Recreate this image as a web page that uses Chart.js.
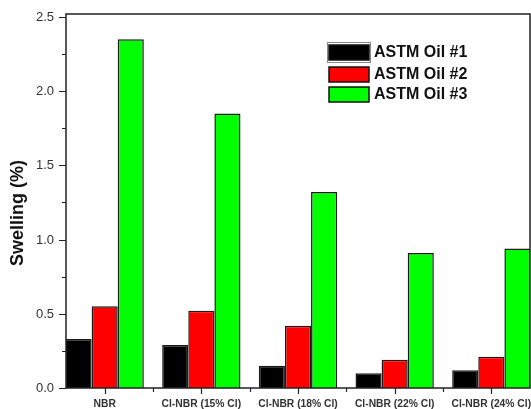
<!DOCTYPE html>
<html>
<head>
<meta charset="utf-8">
<script src="https://cdn.jsdelivr.net/npm/chart.js@4/dist/chart.umd.min.js"></script>
<style>
  html, body { margin: 0; padding: 0; background: #fff; }
  #wrap { width: 531px; height: 409px; }
</style>
</head>
<body>
<div id="wrap"><canvas id="c" width="531" height="409"></canvas></div>
<script>
// Swelling of NBR and chlorinated NBR in ASTM reference oils
const categories = ['NBR', 'Cl-NBR (15% Cl)', 'Cl-NBR (18% Cl)', 'Cl-NBR (22% Cl)', 'Cl-NBR (24% Cl)'];
const oil1 = [0.33, 0.29, 0.15, 0.10, 0.12];
const oil2 = [0.55, 0.52, 0.42, 0.19, 0.21];
const oil3 = [2.35, 1.85, 1.32, 0.91, 0.94];
const seriesNames = ['ASTM Oil #1', 'ASTM Oil #2', 'ASTM Oil #3'];
const yTicks = [0, 0.5, 1.0, 1.5, 2.0, 2.5];

const FONT = "'Liberation Sans', Arial, sans-serif";
const AXIS = '#222';

function points(vals) {
  return vals.map((v, i) => ({ x: i + 1, y: v }));
}

// frame, tick marks and labels, axis title and in-plot legend
const decor = {
  id: 'decor',
  afterDraw(chart) {
    const ctx = chart.ctx;
    const a = chart.chartArea;
    const xs = chart.scales.x, ys = chart.scales.y;
    ctx.save();
    ctx.strokeStyle = AXIS;
    ctx.lineWidth = 1.5;
    ctx.strokeRect(a.left, a.top, a.right - a.left, a.bottom - a.top);

    ctx.lineWidth = 1.2;
    ctx.beginPath();
    // y ticks: major every 0.5, minor every 0.25
    for (let k = 0; k <= 10; k++) {
      const v = k * 0.25;
      const y = Math.round(ys.getPixelForValue(v)) + 0.5;
      const len = (k % 2 === 0) ? 7 : 4;
      ctx.moveTo(a.left, y);
      ctx.lineTo(a.left - len, y);
    }
    // x ticks: major at each group, minor between groups
    for (let k = 1; k <= 5; k++) {
      const x = Math.round(xs.getPixelForValue(k)) + 0.5;
      ctx.moveTo(x, a.bottom);
      ctx.lineTo(x, a.bottom + 6);
      if (k < 5) {
        const xm = Math.round(xs.getPixelForValue(k + 0.5)) + 0.5;
        ctx.moveTo(xm, a.bottom);
        ctx.lineTo(xm, a.bottom + 4);
      }
    }
    ctx.stroke();

    // tick labels
    ctx.fillStyle = '#333';
    ctx.font = '13px ' + FONT;
    ctx.textAlign = 'right';
    ctx.textBaseline = 'middle';
    yTicks.forEach(v => {
      ctx.fillText(v.toFixed(1), a.left - 12, ys.getPixelForValue(v) + 0.5);
    });
    ctx.font = 'bold 10.3px ' + FONT;
    ctx.textAlign = 'center';
    categories.forEach((name, i) => {
      ctx.fillText(name, xs.getPixelForValue(i + 1), a.bottom + 16);
    });

    // y axis title
    ctx.save();
    ctx.translate(18, 213);
    ctx.rotate(-Math.PI / 2);
    ctx.font = 'bold 18px ' + FONT;
    ctx.fillStyle = '#111';
    ctx.textAlign = 'center';
    ctx.textBaseline = 'middle';
    ctx.fillText('Swelling (%)', 0, 0);
    ctx.restore();

    // legend
    const rows = [53, 75, 95];
    chart.data.datasets.forEach((ds, i) => {
      const cy = rows[i];
      ctx.fillStyle = ds.backgroundColor;
      ctx.fillRect(329, cy - 8, 40, 15);
      ctx.strokeStyle = '#111';
      ctx.lineWidth = 1.5;
      ctx.strokeRect(329, cy - 8, 40, 15);
      if (i === 0) {
        ctx.strokeStyle = '#888';
        ctx.lineWidth = 1;
        ctx.strokeRect(327.5, cy - 10.5, 43, 20);
      }
      ctx.fillStyle = '#111';
      ctx.font = 'bold 16px ' + FONT;
      ctx.textAlign = 'left';
      ctx.textBaseline = 'middle';
      ctx.fillText(ds.label, 374, cy);
    });
    ctx.restore();
  }
};

const barStyle = { borderColor: '#1a1a1a', borderWidth: 1.5, borderSkipped: 'bottom' };

new Chart(document.getElementById('c'), {
  type: 'bar',
  data: {
    datasets: [
      Object.assign({ label: seriesNames[0], data: points(oil1), backgroundColor: '#000000' }, barStyle),
      Object.assign({ label: seriesNames[1], data: points(oil2), backgroundColor: '#ff0000' }, barStyle),
      Object.assign({ label: seriesNames[2], data: points(oil3), backgroundColor: '#00ff00' }, barStyle)
    ]
  },
  options: {
    responsive: false,
    animation: false,
    devicePixelRatio: 1,
    layout: { padding: { top: 14, right: 1, left: 0, bottom: 0 } },
    datasets: { bar: { categoryPercentage: 0.81, barPercentage: 1.0 } },
    plugins: { legend: { display: false }, tooltip: { enabled: false } },
    scales: {
      x: {
        type: 'linear',
        min: 0.6,
        max: 5.4,
        offset: false,
        grid: { display: false },
        border: { display: false },
        ticks: { display: false },
        afterBuildTicks(scale) { scale.ticks = categories.map((_, i) => ({ value: i + 1 })); },
        afterFit(scale) { scale.height = 21; }
      },
      y: {
        min: 0,
        max: 2.52,
        grid: { display: false },
        border: { display: false },
        ticks: { display: false },
        afterBuildTicks(scale) { scale.ticks = yTicks.map(v => ({ value: v })); },
        afterFit(scale) { scale.width = 66; }
      }
    }
  },
  plugins: [decor]
});
</script>
</body>
</html>
